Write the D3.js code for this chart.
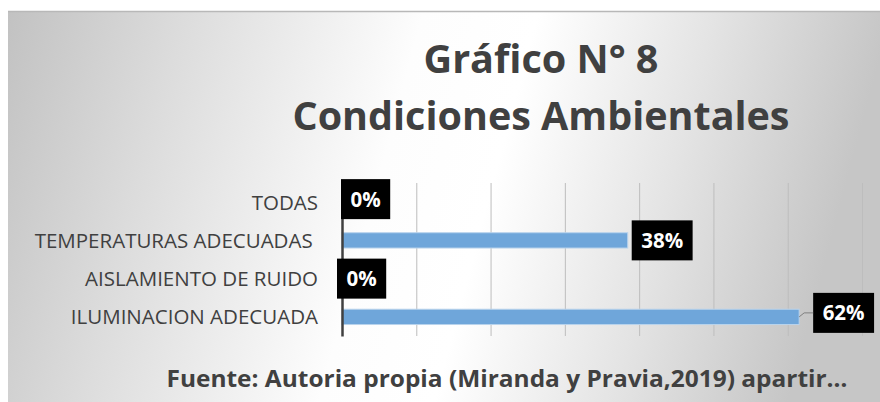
<!DOCTYPE html>
<html><head><meta charset="utf-8">
<script src="https://cdn.jsdelivr.net/npm/d3@7"></script>
<style>html,body{margin:0;padding:0;background:#fff}svg{display:block}</style>
</head><body>
<svg id="c" width="880" height="402"></svg>
<script>
// ---- data ----
const categories = ["TODAS", "TEMPERATURAS ADECUADAS ", "AISLAMIENTO DE RUIDO", "ILUMINACION ADECUADA"];
const values = [0, 0.3846, 0, 0.6154];
const valueLabels = ["0%", "38%", "0%", "62%"];
const gridTicks = [0, 0.1, 0.2, 0.3, 0.4, 0.5, 0.6, 0.7];
const titleLines = ["Gráfico N° 8", "Condiciones Ambientales"];
const sourceNote = "Fuente: Autoria propia (Miranda y Pravia,2019) apartir…";

// ---- layout ----
const W = 880, H = 402;
const box = {x: 8, y: 11, w: 872, h: 391};
const plot = {left: 342, right: 862, top: 183, bottom: 336};
const labelNudgeX = [-1, 4, -5, 14];
const labelNudgeY = [-3, 0, 0, -4];
const FONT = "'Open Sans', 'Noto Sans', sans-serif";
const TXT = "#404040";

const svg = d3.select("#c");
const defs = svg.append("defs");
const lg = defs.append("linearGradient").attr("id", "bg").attr("x1", "0").attr("y1", "0").attr("x2", "1").attr("y2", "0.12");
[[0, "#c2c2c2"], [0.2, "#dcdcdc"], [0.47, "#fdfdfd"], [0.6, "#ffffff"], [0.8, "#e4e4e4"], [1, "#c6c6c6"]]
  .forEach(([o, c]) => lg.append("stop").attr("offset", o).attr("stop-color", c));

svg.append("rect").attr("x", 0).attr("y", 0).attr("width", W).attr("height", H).attr("fill", "#fff");
svg.append("rect").attr("x", box.x).attr("y", box.y).attr("width", box.w).attr("height", box.h).attr("fill", "url(#bg)");
svg.append("line").attr("x1", box.x).attr("x2", box.x + box.w).attr("y1", box.y + 0.5).attr("y2", box.y + 0.5)
  .attr("stroke", "#b8b8b8").attr("stroke-width", 1.5);

// titles
svg.selectAll("text.title").data(titleLines).join("text").attr("class", "title")
  .attr("x", 541).attr("y", (d, i) => i === 0 ? 73 : 130)
  .attr("text-anchor", "middle").attr("font-family", FONT).attr("font-weight", 700)
  .attr("font-size", 40).attr("fill", TXT)
  .attr("textLength", (d, i) => i === 0 ? 235 : 497).attr("lengthAdjust", "spacingAndGlyphs")
  .text(d => d);

// scales
const x = d3.scaleLinear().domain([0, 0.7]).range([plot.left, plot.right]);
const y = d3.scaleBand().domain(categories).range([plot.top, plot.bottom]).paddingInner(0.6).paddingOuter(0.3);
const bandC = d => y(d) + y.bandwidth() / 2;

// gridlines
const grid = d3.axisBottom(x).tickValues(gridTicks).tickSize(-(plot.bottom - plot.top)).tickFormat("");
const gg = svg.append("g").attr("transform", `translate(0,${plot.bottom})`).call(grid);
gg.select(".domain").remove();
gg.selectAll(".tick line").attr("stroke", "#bdbdbd").attr("stroke-width", 1);
gg.selectAll(".tick").filter(d => d === 0).remove();

// bars
svg.selectAll("rect.bar").data(categories).join("rect").attr("class", "bar")
  .attr("x", x(0)).attr("y", d => y(d))
  .attr("width", (d, i) => x(values[i]) - x(0)).attr("height", y.bandwidth())
  .attr("fill", "#6fa6da").attr("stroke", "#b9d3ec").attr("stroke-width", 1)
  .style("display", (d, i) => values[i] > 0 ? null : "none");

// category axis
const ya = d3.axisLeft(y).tickSize(0).tickPadding(24);
const yg = svg.append("g").attr("transform", `translate(${x(0)},0)`).call(ya);
yg.select(".domain").attr("stroke", "#404040").attr("stroke-width", 2.5);
yg.selectAll(".tick text").attr("font-family", FONT).attr("font-size", 20.5).attr("fill", TXT)
  .style("white-space", "pre").attr("dy", "0.36em");

// data labels
const lab = svg.append("g");
categories.forEach((c, i) => {
  const bx = x(values[i]) + labelNudgeX[i];
  const cy = bandC(c) + labelNudgeY[i];
  const g = lab.append("g");
  const r = g.append("rect").attr("fill", "#000");
  const t = g.append("text").attr("font-family", FONT).attr("font-weight", 700).attr("font-size", 20.5)
    .attr("fill", "#fff").attr("dy", "0.36em").text(valueLabels[i]);
  const tw = t.node().getComputedTextLength();
  const bw = tw + 19, bh = 40;
  r.attr("x", bx).attr("y", cy - bh / 2).attr("width", bw).attr("height", bh);
  t.attr("x", bx + 9.5).attr("y", cy);
  if (labelNudgeX[i] > 8) {
    const x0 = x(values[i]), y0 = bandC(c);
    svg.append("path").attr("d", `M${x0},${y0}L${x0 + 5},${cy}L${bx},${cy}`)
      .attr("fill", "none").attr("stroke", "#7f7f7f").attr("stroke-width", 1);
  }
});

// source note
svg.append("text").attr("x", 507).attr("y", 387).attr("text-anchor", "middle")
  .attr("font-family", FONT).attr("font-weight", 700).attr("font-size", 23).attr("fill", TXT)
  .attr("textLength", 681).attr("lengthAdjust", "spacingAndGlyphs").text(sourceNote);
</script>
</body></html>
